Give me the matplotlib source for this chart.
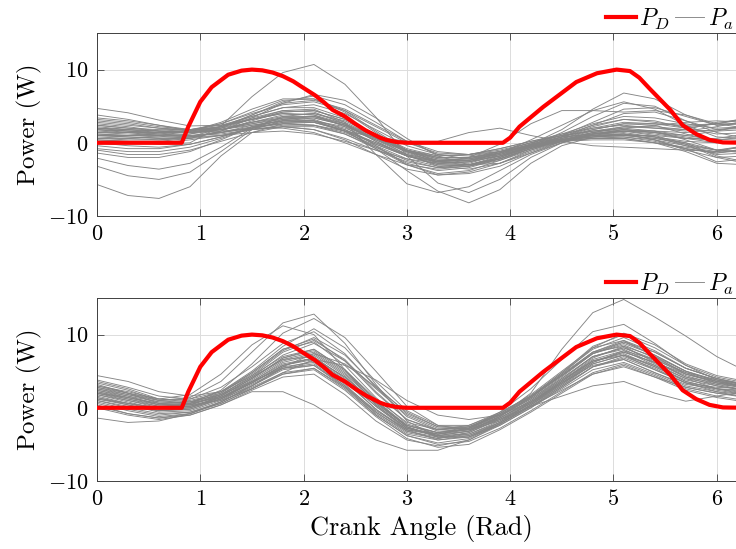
import numpy as np
import matplotlib
matplotlib.use("Agg")
import matplotlib.pyplot as plt

plt.rcParams['font.family'] = 'serif'
plt.rcParams['font.serif'] = ['cmr10']
plt.rcParams['mathtext.fontset'] = 'cm'
plt.rcParams['axes.formatter.use_mathtext'] = True

# ---------------- data ----------------
# desired power profile P_D (angle, value)
pd_angle = [0.0, 0.82, 0.884, 1.0, 1.11, 1.27, 1.40, 1.5, 1.6, 1.7, 1.8, 1.9, 1.965, 2.11, 2.2, 2.28,
            2.4, 2.5, 2.6, 2.74, 2.8, 2.9, 3.0, 3.93, 4.0, 4.09, 4.32, 4.64, 4.84, 5.03, 5.16, 5.25,
            5.35, 5.55, 5.67, 5.8, 5.93, 6.06, 6.2832]
pd_value = [0.0, 0.0, 2.2, 5.6, 7.6, 9.3, 9.86, 10.0, 9.9, 9.6, 9.1, 8.4, 7.8, 6.5, 5.5, 4.5,
            3.6, 2.6, 1.7, 0.7, 0.4, 0.1, 0.0, 0.0, 0.7, 2.2, 4.9, 8.3, 9.5, 10.0, 9.8, 8.9,
            7.4, 4.5, 2.4, 1.2, 0.4, 0.05, 0.0]

# sampling angles of the measured curves P_a
pa_angle = [0.0, 0.3, 0.6, 0.9, 1.2, 1.5, 1.8, 2.1, 2.4, 2.7, 3.0, 3.3, 3.6, 3.9, 4.2, 4.5,
            4.8, 5.1, 5.4, 5.7, 6.0, 6.2832]

top_curves = [
    [-5.7,-7.2,-7.6,-6.0,-1.8, 1.4, 2.6, 2.8, 1.6,-0.2,-1.8,-2.6,-2.4,-1.4,-0.3, 0.5, 1.0, 1.2, 0.8, 0.0,-1.0,-0.6],
    [-3.2,-4.5,-5.0,-4.0,-1.2, 1.8, 3.0, 3.4, 2.4, 0.6,-1.2,-2.2,-2.4,-1.8,-0.6, 0.6, 1.8, 2.6, 2.4, 1.2, 0.2, 0.2],
    [-2.1,-3.1,-3.6,-2.8,-0.6, 2.0, 3.6, 4.0, 3.0, 1.0,-1.0,-2.6,-3.0,-2.2,-0.8, 0.4, 1.2, 1.4, 0.8,-0.4,-1.6,-1.4],
    [ 4.7, 4.1, 3.1, 2.3, 2.4, 3.2, 4.2, 4.4, 3.2, 1.2,-0.8,-1.8,-1.6,-0.8, 0.2, 1.0, 1.6, 1.8, 1.4, 1.0, 1.6, 2.4],
    [ 0.4, 0.2,-0.2, 0.0, 2.3, 6.3, 9.6,10.7, 8.0, 3.5,-1.8,-5.5,-6.8,-5.0,-2.0, 0.0, 1.2, 1.8, 1.4, 0.6, 0.4, 0.8],
    [ 1.8, 1.4, 1.0, 0.8, 1.4, 2.4, 3.0, 3.0, 1.6,-0.8,-3.8,-6.6,-8.2,-6.4,-2.8,-0.4, 0.8, 1.2, 0.8, 0.2, 0.0, 0.4],
    [ 2.4, 2.0, 1.6, 1.4, 2.0, 3.2, 4.4, 4.6, 2.8,-1.6,-5.6,-6.8,-6.0,-3.8,-1.6, 0.0, 1.0, 1.6, 1.6, 1.0, 0.4, 0.6],
    [ 1.0, 0.8, 0.6, 0.8, 1.4, 2.2, 2.6, 2.4, 1.6, 0.8, 0.2, 0.2, 1.4, 2.0, 1.0, 0.2,-0.4,-0.6,-0.8,-1.0,-1.2,-1.0],
    [ 0.6, 0.6, 0.8, 1.2, 2.2, 3.6, 4.8, 4.8, 3.4, 1.0,-1.4,-2.6,-2.8,-1.6,-0.2, 1.8, 4.6, 6.8, 6.0, 3.8, 2.4, 2.8],
    [ 2.0, 1.6, 1.2, 1.2, 1.8, 2.8, 3.4, 3.2, 1.8,-0.2,-1.8,-2.6,-2.0,-0.2, 2.6, 4.4, 4.4, 4.2, 4.4, 3.8, 2.6, 2.0],
    [ 1.2, 1.0, 1.0, 1.6, 2.8, 4.6, 6.0, 6.0, 4.2, 1.4,-1.2,-2.8,-3.0,-2.0,-0.4, 1.4, 3.6, 5.4, 5.0, 3.0, 1.8, 2.0],
    [ 2.6, 2.2, 1.6, 1.4, 1.8, 2.8, 3.8, 4.0, 2.8, 0.8,-1.2,-2.4,-2.4,-1.4,-0.2, 0.8, 2.2, 3.2, 3.0, 2.0, 1.2, 1.4],
    [ 3.4, 3.0, 2.4, 1.8, 1.8, 2.4, 3.0, 2.8, 1.6, 0.0,-1.6,-2.4,-2.2,-1.2, 0.0, 1.0, 1.6, 2.0, 2.4, 2.8, 3.0, 2.8],
    [ 1.6, 1.4, 1.2, 1.0, 1.2, 1.8, 2.2, 1.8, 0.4,-1.6,-3.6,-4.4,-4.0,-2.8,-1.0, 0.4, 1.0, 1.0, 0.6, 0.0,-1.8,-2.6],
    [ 0.2, 0.0, 0.0, 0.4, 1.0, 1.8, 2.2, 1.8, 0.6,-1.0,-2.6,-3.4,-3.0,-1.8,-0.4, 0.8, 1.2, 1.2, 0.4,-0.8,-2.6,-2.2],
    [ 2.2, 1.8, 1.4, 1.4, 2.2, 3.8, 5.4, 5.8, 4.6, 2.4, 0.2,-1.2,-1.6,-1.2,-0.4, 0.6, 1.6, 2.2, 2.0, 1.6, 2.2, 3.0],
    [ 1.2, 1.0, 0.8, 0.8, 1.0, 1.4, 1.6, 1.2, 0.2,-1.0,-2.2,-2.8,-2.6,-1.8,-0.6, 0.4, 0.6, 0.6, 0.0,-0.8,-1.4,-0.8],
    [-0.8,-1.2,-1.2,-0.6, 0.6, 2.0, 3.2, 3.6, 2.6, 0.6,-1.6,-3.2,-3.6,-2.8,-1.2, 0.2, 1.0, 1.2, 0.4,-1.0,-2.0,-1.8],
    [ 3.0, 2.6, 2.0, 1.6, 1.8, 2.6, 3.4, 3.4, 2.4, 0.6,-1.0,-1.8,-1.6,-0.8, 0.2, 1.2, 2.0, 2.4, 2.0, 1.8, 2.8, 3.2],
    [ 0.8, 0.6, 0.4, 0.6, 1.6, 3.4, 5.4, 6.6, 5.8, 3.4, 0.6,-1.8,-3.0,-2.8,-1.4, 0.0, 1.2, 1.6, 1.0,-0.2,-1.0,-0.4],
    [ 1.8, 1.6, 1.4, 1.6, 2.2, 3.4, 4.4, 4.2, 2.6, 0.2,-1.8,-2.8,-2.6,-1.4, 0.4, 2.4, 4.4, 5.6, 4.6, 2.4, 0.8, 0.6],
    [-1.4,-2.0,-2.0,-1.2, 0.4, 2.2, 3.4, 3.6, 2.4, 0.2,-1.8,-3.0,-3.0,-2.0,-0.6, 0.4, 0.8, 0.8, 0.2,-0.8,-1.4,-1.0],
    [ 2.8, 2.4, 2.0, 1.8, 2.2, 3.2, 4.0, 3.8, 2.2,-0.4,-3.0,-4.4,-4.2,-3.2,-1.4, 0.2, 1.2, 1.8, 1.6, 1.4, 1.8, 2.2],
    [ 0.0,-0.4,-0.6,-0.2, 0.8, 2.2, 3.0, 3.0, 2.0, 0.4,-1.2,-2.0,-2.0,-1.4,-0.4, 0.4, 0.8, 1.0, 1.0, 0.6, 0.6, 1.2],
    [ 1.4, 1.4, 1.4, 1.6, 2.2, 3.2, 4.0, 3.8, 2.6, 0.8,-1.0,-2.0,-2.0,-1.2, 0.0, 1.2, 2.6, 3.6, 3.4, 2.6, 2.0, 2.2],
    [ 2.0, 1.8, 1.6, 1.4, 1.6, 2.0, 2.0, 1.4, 0.0,-1.6,-3.0,-3.6,-3.2,-2.0,-0.6, 0.2, 0.4, 0.4, 0.0,-0.6,-1.2,-0.4],
    [ 0.6, 0.4, 0.4, 0.8, 2.0, 3.8, 5.6, 6.4, 5.2, 2.8, 0.2,-1.6,-2.2,-1.6,-0.6, 0.4, 1.4, 2.2, 2.2, 1.8, 1.6, 1.8],
    [ 3.8, 3.2, 2.4, 1.6, 1.4, 2.0, 2.8, 3.0, 2.2, 0.6,-1.0,-2.0,-2.0,-1.4,-0.4, 0.6, 1.4, 1.6, 1.2, 0.6, 0.0, 0.2],
    [-0.4,-0.8,-0.8,-0.2, 0.8, 2.0, 2.8, 2.8, 1.8, 0.0,-1.8,-3.0,-3.2,-2.4,-1.0, 0.2, 0.6, 0.6, 0.0,-1.2,-2.8,-3.0],
    [ 1.0, 1.0, 1.2, 1.6, 2.6, 4.0, 5.2, 5.6, 4.4, 2.2, 0.0,-1.4,-1.6,-1.0, 0.0, 1.0, 2.4, 3.2, 2.8, 2.2, 2.6, 3.4],
    [ 1.4, 1.2, 1.0, 1.0, 1.4, 2.0, 2.6, 2.4, 1.2,-0.8,-3.0,-4.2,-3.8,-2.4,-0.8, 0.4, 1.2, 1.6, 1.4, 0.8, 0.2, 0.0],
    [ 2.4, 2.0, 1.8, 1.8, 2.4, 3.6, 4.8, 5.2, 4.0, 1.8,-0.4,-1.6,-1.8,-1.2,-0.2, 0.8, 2.0, 2.8, 2.6, 2.0, 2.6, 3.2],
    [-1.0,-1.6,-1.6,-1.0, 0.2, 1.4, 2.2, 2.2, 1.2,-0.6,-2.4,-3.4,-3.2,-2.2,-0.8, 0.4, 1.4, 2.0, 1.6, 0.4,-1.0,-1.4],
    [ 1.8, 1.6, 1.4, 1.4, 1.8, 2.6, 3.2, 3.0, 1.6,-0.6,-2.8,-3.8,-3.4,-2.2,-0.6, 0.8, 2.4, 4.0, 4.2, 3.0, 1.4, 0.6],
    [ 0.4, 0.2, 0.2, 0.6, 1.6, 3.0, 4.2, 4.4, 3.2, 1.0,-1.2,-2.4,-2.4,-1.6,-0.4, 0.4, 0.8, 1.0, 0.6,-0.2,-2.0,-2.8],
    [ 3.2, 2.8, 2.2, 1.8, 2.0, 2.8, 3.6, 3.6, 2.4, 0.4,-1.6,-2.6,-2.6,-1.8,-0.4, 0.8, 1.8, 2.6, 2.6, 2.4, 2.6, 2.6],
    [ 1.0, 0.8, 0.6, 0.6, 1.0, 1.8, 2.4, 2.4, 1.4,-0.4,-2.2,-3.2,-3.0,-2.2,-0.8, 0.2, 0.6, 0.8, 0.4,-0.4,-1.0,-1.2],
    [ 2.0, 1.8, 1.6, 1.8, 2.6, 4.2, 5.8, 6.0, 4.4, 1.6,-1.0,-2.2,-2.2,-1.4,-0.2, 1.0, 2.8, 4.6, 4.8, 3.6, 2.4, 2.6],
]

bottom_curves = [
    [ 2.0, 1.0, 0.0, 0.0, 1.2, 3.4, 5.8, 6.6, 3.6,-0.2,-3.0,-3.8,-3.2,-1.2, 2.0, 8.0,13.0,14.8,12.4, 9.8, 7.0, 5.0],
    [ 1.0, 0.0,-0.8,-0.6, 0.6, 2.6, 4.6, 5.4, 2.8,-0.6,-3.2,-4.0,-3.4,-1.6, 0.2, 1.6, 3.0, 3.6, 2.0, 0.9, 1.6, 2.2],
    [ 3.0, 2.0, 1.0, 1.4, 3.6, 7.6,11.6,12.8, 8.8, 3.2,-1.8,-4.0,-4.0,-2.0, 0.8, 3.6, 6.4, 7.6, 6.2, 4.6, 3.6, 3.0],
    [ 2.4, 1.4, 0.4, 0.6, 2.4, 6.0,10.2,12.2, 9.6, 5.0, 0.2,-2.4,-3.0,-1.8, 0.6, 3.4, 6.2, 7.8, 6.6, 4.8, 3.4, 2.6],
    [ 0.4,-0.8,-1.4,-1.0, 0.4, 2.2, 2.2, 0.4,-2.2,-4.4,-5.8,-5.8,-4.4,-2.2, 0.2, 2.4, 4.6, 5.6, 4.2, 2.8, 2.0, 1.6],
    [ 4.4, 3.6, 2.2, 1.6, 2.2, 4.4, 7.0, 8.0, 5.2, 1.2,-2.0,-3.0,-2.4,-0.6, 1.6, 4.4, 7.4, 8.6, 6.8, 4.8, 3.8, 3.2],
    [-1.4,-2.0,-1.8,-0.8, 0.8, 3.0, 5.4, 6.4, 3.8, 0.2,-2.8,-3.8,-3.6,-2.0, 0.4, 3.2, 6.0, 7.2, 5.8, 4.0, 2.6, 1.8],
    [ 3.2, 2.0, 0.6, 0.4, 1.6, 4.0, 6.8, 8.0, 5.2, 1.0,-2.6,-3.8,-3.2,-1.2, 1.4, 4.4, 7.4, 8.8, 7.2, 5.0, 3.8, 3.2],
    [ 1.2, 0.4,-0.6,-0.4, 1.0, 3.2, 5.4, 6.0, 3.0,-0.8,-3.6,-4.4,-3.8,-2.0, 0.4, 3.0, 5.6, 6.6, 4.8, 3.0, 2.2, 1.8],
    [ 2.6, 1.6, 0.4, 0.2, 1.4, 3.8, 6.4, 7.4, 4.6, 0.8,-2.4,-3.4,-3.0,-1.4, 1.0, 4.0, 7.0, 8.2, 6.4, 4.2, 3.0, 2.4],
    [ 1.6, 0.6,-0.4,-0.2, 1.2, 3.4, 5.8, 6.8, 4.2, 0.6,-2.6,-4.0,-4.0,-2.4, 0.0, 2.8, 5.6, 6.8, 5.2, 3.4, 2.4, 1.8],
    [ 3.6, 2.6, 1.2, 0.8, 1.8, 4.2, 7.2, 8.8, 6.4, 2.6,-1.0,-2.8,-2.8,-1.2, 1.2, 4.2, 7.4, 9.0, 7.6, 5.4, 4.0, 3.2],
    [ 0.2,-0.8,-1.4,-0.8, 0.8, 3.0, 5.2, 5.8, 2.8,-1.0,-3.8,-5.0,-4.6,-2.8,-0.4, 2.2, 4.8, 6.0, 4.4, 2.6, 1.6, 1.0],
    [ 2.2, 1.2, 0.2, 0.4, 1.8, 4.4, 7.6, 9.2, 6.6, 2.2,-1.6,-3.2,-3.0,-1.2, 1.6, 4.8, 8.0, 9.6, 7.8, 5.4, 4.0, 3.0],
    [ 2.8, 2.0, 1.2, 1.8, 4.6, 8.6,11.2,10.0, 5.2, 0.4,-2.8,-3.6,-2.8,-1.0, 1.4, 4.4, 7.6, 9.2, 7.6, 5.4, 4.0, 3.2],
    [ 1.8, 0.8,-0.2, 0.0, 1.4, 3.6, 6.0, 6.8, 3.8,-0.2,-3.2,-4.2,-3.6,-1.8, 0.6, 3.6, 6.6, 7.8, 5.8, 3.6, 2.6, 2.0],
    [ 2.4, 1.6, 0.8, 0.8, 1.8, 3.6, 5.4, 5.8, 3.0,-0.4,-3.0,-3.6,-3.0,-1.4, 0.8, 3.4, 5.8, 6.6, 4.8, 3.2, 2.6, 2.4],
    [ 1.4, 0.4,-0.4,-0.2, 1.2, 3.6, 6.2, 7.2, 4.4, 0.4,-2.8,-3.6,-2.8,-0.6, 2.6, 6.6,10.4,11.4, 8.8, 5.8, 3.8, 2.8],
    [ 3.0, 2.2, 1.2, 1.0, 2.0, 4.6, 7.8, 9.6, 7.2, 3.0,-0.8,-2.6,-2.6,-1.0, 1.4, 4.6, 8.2,10.2, 8.6, 6.0, 4.4, 3.6],
    [ 0.8,-0.2,-1.0,-0.6, 0.8, 2.8, 4.8, 5.4, 2.6,-1.0,-3.8,-4.8,-4.2,-2.2, 0.2, 2.8, 5.6, 7.0, 5.4, 3.4, 2.2, 1.4],
    [ 2.0, 1.2, 0.4, 0.6, 2.0, 4.8, 8.0, 9.0, 5.8, 1.4,-2.2,-3.4,-2.8,-0.8, 1.8, 5.0, 8.2, 9.2, 7.0, 4.6, 3.4, 2.8],
    [ 1.0, 0.2,-0.4, 0.0, 1.6, 4.0, 6.6, 7.6, 4.8, 0.8,-2.6,-4.0,-3.8,-2.2, 0.4, 3.4, 6.4, 7.4, 5.6, 3.8, 3.0, 2.4],
    [ 3.4, 2.4, 1.0, 0.6, 1.4, 3.4, 5.8, 6.8, 4.2, 0.6,-2.4,-3.4,-2.6,-0.8, 1.6, 4.6, 7.6, 8.4, 6.2, 4.2, 3.4, 3.0],
    [ 0.6,-0.4,-1.2,-0.8, 0.6, 2.6, 4.6, 5.2, 2.4,-1.2,-4.2,-5.4,-5.0,-3.0,-0.6, 2.0, 4.6, 5.8, 4.2, 2.4, 1.4, 0.8],
    [ 2.6, 1.8, 1.0, 1.2, 2.8, 5.6, 8.8,10.4, 7.4, 2.8,-1.2,-3.0,-2.8,-1.0, 1.4, 4.4, 7.6, 9.0, 7.2, 5.0, 3.6, 2.8],
    [ 1.4, 0.6, 0.0, 0.2, 1.4, 3.4, 5.6, 6.2, 3.2,-0.6,-3.4,-4.2,-3.4,-1.4, 1.0, 3.8, 6.4, 7.2, 5.2, 3.4, 2.8, 2.6],
    [ 2.8, 1.8, 0.8, 0.6, 1.6, 4.0, 6.8, 7.8, 5.0, 1.0,-2.4,-3.6,-3.2,-1.6, 0.8, 3.8, 7.0, 8.0, 6.0, 4.0, 3.2, 2.8],
    [ 0.0,-1.0,-1.6,-1.0, 0.4, 2.4, 4.2, 4.6, 1.8,-1.8,-4.4,-5.2,-4.4,-2.4, 0.0, 2.6, 5.2, 6.2, 4.6, 2.8, 2.0, 1.4],
    [ 2.0, 1.4, 0.6, 0.4, 1.0, 2.6, 4.8, 6.6, 5.8, 3.8, 1.0,-1.0,-1.6,-1.0, 0.8, 3.6, 6.8, 8.4, 7.0, 5.0, 3.6, 2.8],
    [ 1.2, 0.6, 0.0, 0.2, 1.2, 3.0, 5.6, 7.4, 6.0, 2.8,-0.6,-2.6,-2.8,-1.6, 0.6, 3.2, 6.2, 7.6, 6.2, 4.4, 3.2, 2.4],
    [ 3.8, 2.8, 1.6, 1.2, 2.2, 4.8, 8.0, 9.4, 6.4, 2.0,-1.6,-3.0,-2.6,-1.0, 1.2, 4.0, 7.0, 8.2, 6.6, 4.6, 3.6, 3.2],
    [ 1.8, 1.0, 0.2, 0.4, 1.8, 4.2, 6.6, 7.0, 4.0, 0.2,-3.0,-4.4,-4.0,-2.2, 0.2, 3.0, 6.0, 7.2, 5.6, 3.6, 2.6, 2.2],
    [ 2.2, 1.4, 0.6, 0.8, 2.2, 5.0, 8.4,10.8, 8.2, 3.6,-0.4,-2.4,-2.4,-0.8, 1.6, 4.8, 8.4,10.0, 8.2, 5.8, 4.2, 3.4],
]

x_ticks = [0, 1, 2, 3, 4, 5, 6]
y_ticks = [-10, 0, 10]
y_label = "Power (W)"
x_label = "Crank Angle (Rad)"
legend_labels = [r"$P_D$", r"$P_a$"]

# ---------------- figure ----------------
W, H = 736, 549
fig = plt.figure(figsize=(W / 100, H / 100), dpi=100)

def px_axes(left, top, right, bottom):
    return fig.add_axes([left / W, 1 - bottom / H, (right - left) / W, (bottom - top) / H])

ax_top = px_axes(97, 33, 746, 216)
ax_bot = px_axes(97, 298, 746, 481)

for ax, curves, leg_y in [(ax_top, top_curves, 19), (ax_bot, bottom_curves, 284)]:
    ax.set_axisbelow(True)
    ax.grid(True, color='#dcdcdc', linewidth=0.7)
    gray_handle = None
    for c in curves:
        ln, = ax.plot(pa_angle, c, color='#858585', linewidth=0.65, zorder=2)
        if gray_handle is None:
            gray_handle = ln
    red, = ax.plot(pd_angle, pd_value, color='#ff0000', linewidth=3.0, zorder=3)
    ax.set_xlim(0, 2 * np.pi)
    ax.set_ylim(-10, 15)
    ax.set_xticks(x_ticks)
    ax.set_yticks(y_ticks)
    ax.tick_params(direction='in', top=True, right=True, length=5, width=0.6,
                   color='#404040', labelsize=16, pad=6)
    for s in ax.spines.values():
        s.set_color('#404040')
        s.set_linewidth(0.7)
    ax.set_ylabel(y_label, fontsize=18, labelpad=4)
    fig.legend(handles=[red, gray_handle], labels=legend_labels, ncol=2, frameon=False,
               loc='center right', bbox_to_anchor=(733 / W, 1 - leg_y / H),
               bbox_transform=fig.transFigure, fontsize=17, handlelength=1.25,
               handletextpad=0.15, columnspacing=0.2, borderpad=0, borderaxespad=0)

ax_bot.set_xlabel(x_label, fontsize=19, labelpad=4)

fig.savefig("out.png", dpi=100)
